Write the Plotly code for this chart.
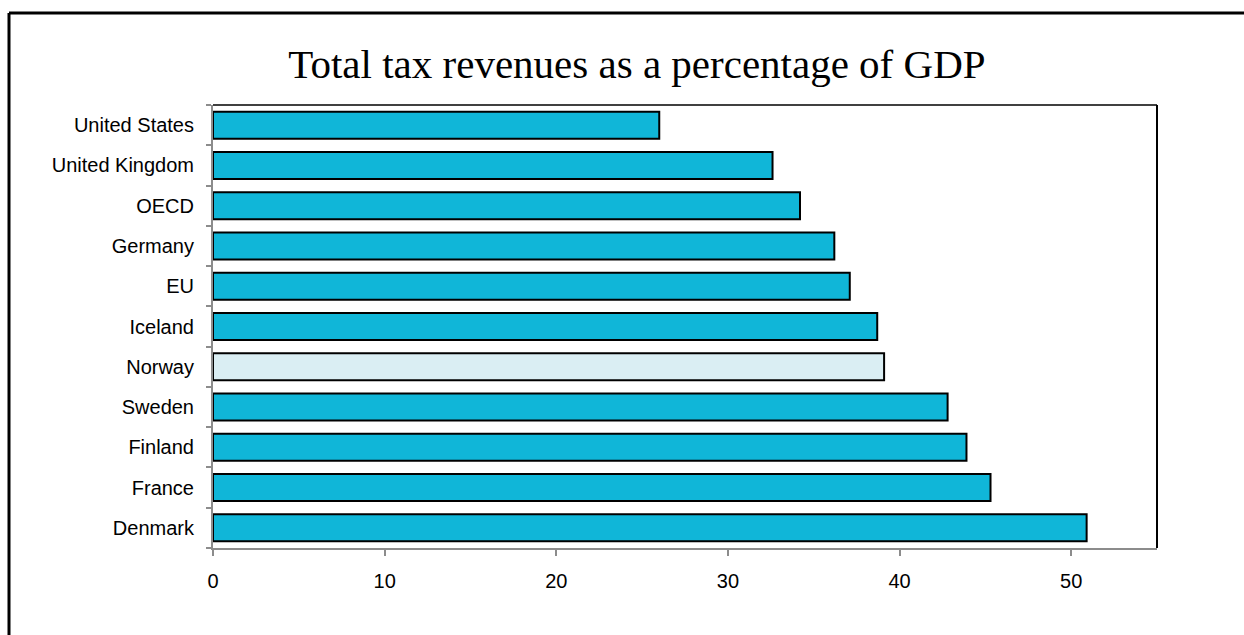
import plotly.graph_objects as go

# Tax-to-GDP ratios (%), listed top to bottom
countries = ["United States", "United Kingdom", "OECD", "Germany", "EU",
             "Iceland", "Norway", "Sweden", "Finland", "France", "Denmark"]
tax_share = [26.0, 32.6, 34.2, 36.2, 37.1, 38.7, 39.1, 42.8, 43.9, 45.3, 50.9]
highlight = "Norway"

bar_blue = "#10B6D8"
norway_fill = "#DAEEF3"
colors = [norway_fill if c == highlight else bar_blue for c in countries]

fig = go.Figure(go.Bar(
    x=tax_share,
    y=countries,
    orientation="h",
    width=0.67,
    marker=dict(color=colors, line=dict(color="#000000", width=2)),
    hoverinfo="x+y",
))

L, R, T, B = 213, 87, 105, 87
W, H = 1244, 635
pw, ph = W - L - R, H - T - B

def px_x(v):
    return (v - L) / pw

def px_y(v):
    return (H - B - v) / ph

fig.update_layout(
    width=W, height=H,
    margin=dict(l=L, r=R, t=T, b=B, pad=0),
    paper_bgcolor="white",
    plot_bgcolor="white",
    showlegend=False,
    title=dict(
        text="Total tax revenues as a percentage of GDP",
        font=dict(family="Liberation Serif, Times New Roman, serif", size=41, color="#000000"),
        x=0.512, xanchor="center",
        y=1 - 78 / H, yanchor="bottom",
        yref="container",
    ),
    font=dict(family="Liberation Sans, Arial, sans-serif", size=20, color="#000000"),
    xaxis=dict(
        range=[0, 55],
        tickmode="array",
        tickvals=[0, 10, 20, 30, 40, 50],
        ticks="outside", ticklen=6, tickwidth=2, tickcolor="#8C8C8C",
        showline=True, linecolor="#8C8C8C", linewidth=2,
        showgrid=False, zeroline=False,
        tickfont=dict(size=20),
        ticklabelstandoff=8,
        fixedrange=True,
    ),
    yaxis=dict(
        categoryorder="array",
        categoryarray=countries[::-1],
        ticks="outside", ticklen=5, tickwidth=2, tickcolor="#8C8C8C",
        tickson="boundaries",
        showline=True, linecolor="#8C8C8C", linewidth=2,
        showgrid=False, zeroline=False,
        tickfont=dict(size=20),
        ticklabelstandoff=13,
        fixedrange=True,
    ),
    shapes=[
        # plot-area frame: top and right edges
        dict(type="line", xref="paper", yref="paper", x0=0, x1=1, y0=1, y1=1,
             line=dict(color="#000000", width=1.5)),
        dict(type="line", xref="paper", yref="paper", x0=1, x1=1, y0=0, y1=1,
             line=dict(color="#000000", width=2)),
        # outer chart border (left and top)
        dict(type="line", xref="paper", yref="paper",
             x0=px_x(9), x1=px_x(9), y0=px_y(H + 10), y1=px_y(13),
             line=dict(color="#000000", width=3)),
        dict(type="line", xref="paper", yref="paper",
             x0=px_x(9), x1=px_x(W + 10), y0=px_y(13), y1=px_y(13),
             line=dict(color="#000000", width=3)),
    ],
)

fig.write_html("out.html")
